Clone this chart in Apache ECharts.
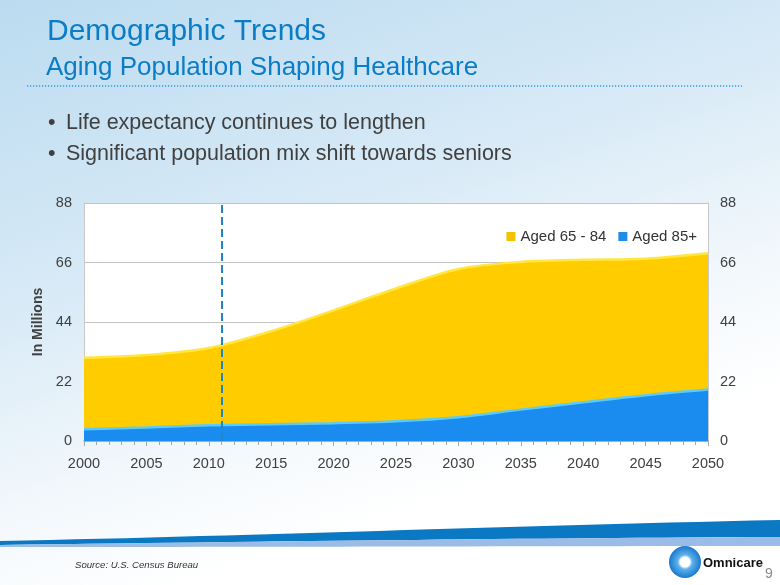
<!DOCTYPE html>
<html>
<head>
<meta charset="utf-8">
<script src="https://cdn.jsdelivr.net/npm/echarts@6/dist/echarts.min.js"></script>
<style>
html,body{margin:0;padding:0;width:780px;height:585px;overflow:hidden;}
#c{width:780px;height:585px;}
</style>
</head>
<body>
<div id="c"></div>
<script>
const years = [2000, 2005, 2010, 2015, 2020, 2025, 2030, 2035, 2040, 2045, 2050];
const aged65to84 = [30.8, 31.8, 34.4, 40.6, 48.3, 56.4, 63.6, 66.2, 67.0, 67.4, 69.4];
const aged85plus = [4.3, 5.0, 5.8, 6.2, 6.6, 7.3, 8.8, 11.6, 14.3, 16.9, 19.0];
const yTicks = [0, 22, 44, 66, 88];
const currentYear = 2011;

const FONT = '"Liberation Sans", Arial, sans-serif';
const chart = echarts.init(document.getElementById('c'), null, {renderer: 'canvas'});

const pairs = (vals) => years.map((y, i) => [y, vals[i]]);

// decorative swoosh outline (cubic bezier sampled into polygon points)
function bez(p0, p1, p2, p3, n) {
  const pts = [];
  for (let i = 0; i <= n; i++) {
    const t = i / n, u = 1 - t;
    pts.push([
      u*u*u*p0[0] + 3*u*u*t*p1[0] + 3*u*t*t*p2[0] + t*t*t*p3[0],
      u*u*u*p0[1] + 3*u*u*t*p1[1] + 3*u*t*t*p2[1] + t*t*t*p3[1]
    ]);
  }
  return pts;
}
const darkTop = bez([0,541],[250,536],[500,526],[780,520],30);
const darkBot = bez([780,537],[550,538],[300,541],[0,545],30);
const lightTop = bez([0,545],[300,541],[550,538],[780,537],30);
const lightBot = bez([780,546],[550,546],[300,547],[0,547],30);

function txt(text, x, y, size, color, extra) {
  return {
    type: 'text', x: x, y: y, z: 10,
    style: {
      text: text, fill: color,
      font: (extra && extra.font) || ('normal ' + size + 'px ' + FONT),
      textVerticalAlign: 'middle', textAlign: 'left'
    }
  };
}

chart.setOption({
  backgroundColor: {
    type: 'linear', x: 0, y: 0, x2: 0.25, y2: 1,
    colorStops: [
      {offset: 0, color: '#BBDBF0'},
      {offset: 0.45, color: '#D6E9F6'},
      {offset: 0.8, color: '#F3F8FC'},
      {offset: 1, color: '#FFFFFF'}
    ]
  },
  textStyle: {fontFamily: FONT},
  animation: false,
  graphic: [
    txt('Demographic Trends', 47, 32, 30, '#0B7DC6'),
    txt('Aging Population Shaping Healthcare', 46, 68, 26, '#0B7DC6'),
    txt('•', 48, 123, 21.5, '#404040'),
    txt('Life expectancy continues to lengthen', 66, 123, 21.5, '#404040'),
    txt('•', 48, 154, 21.5, '#404040'),
    txt('Significant population mix shift towards seniors', 66, 154, 21.5, '#404040'),
    txt('Source: U.S. Census Bureau', 75, 565, 9.6, '#333333', {font: 'italic 9.6px ' + FONT}),
    txt('Omnicare', 703, 563, 13, '#111111', {font: 'bold 13px ' + FONT}),
    txt('9', 765, 574, 14, '#8A8A8A'),
    {type: 'line', shape: {x1: 27, y1: 86, x2: 742, y2: 86},
     style: {stroke: '#2E9AD8', lineWidth: 1.5, lineDash: [1.2, 1.8]}, z: 1},
    {type: 'polygon', shape: {points: darkTop.concat(darkBot)},
     style: {fill: '#0B78C4'}, z: 1},
    {type: 'polygon', shape: {points: lightTop.concat(lightBot)},
     style: {fill: '#9BBCE6'}, z: 1},
    {type: 'circle', shape: {cx: 685, cy: 562, r: 16},
     style: {fill: {type: 'radial', x: 0.5, y: 0.5, r: 0.5,
       colorStops: [{offset: 0, color: '#FFFFFF'}, {offset: 0.3, color: '#FFFFFF'}, {offset: 0.45, color: '#5FB3EC'}, {offset: 1, color: '#1A78CC'}]}},
     z: 1}
  ],
  legend: {
    right: 78, top: 224,
    itemWidth: 9, itemHeight: 9, itemGap: 12,
    icon: 'rect',
    textStyle: {fontFamily: FONT, fontSize: 15, color: '#333333'},
    data: ['Aged 65 - 84', 'Aged 85+']
  },
  grid: {left: 84, right: 72, top: 203, bottom: 144, show: true, backgroundColor: '#FFFFFF', borderWidth: 0},
  xAxis: {
    type: 'value', min: 2000, max: 2050, interval: 5,
    axisLine: {show: true, lineStyle: {color: '#A6A6A6', width: 1.5}},
    axisTick: {show: true, length: 5, lineStyle: {color: '#A6A6A6'}},
    minorTick: {show: true, splitNumber: 5, length: 4, lineStyle: {color: '#A6A6A6'}},
    splitLine: {show: false},
    axisLabel: {fontFamily: FONT, fontSize: 14.5, color: '#404040', margin: 15, formatter: v => String(v)}
  },
  yAxis: [
    {type: 'value', min: 0, max: 88, interval: 22, position: 'left',
     name: 'In Millions', nameLocation: 'middle', nameGap: 35, nameRotate: 90,
     nameTextStyle: {fontFamily: FONT, fontSize: 14, fontWeight: 'bold', color: '#404040'},
     axisLine: {show: true, lineStyle: {color: '#C8C8C8'}},
     axisTick: {show: false},
     splitLine: {lineStyle: {color: '#C4C4C4'}},
     axisLabel: {fontFamily: FONT, fontSize: 14.5, color: '#404040', margin: 12,
       formatter: v => yTicks.includes(v) ? String(v) : ''}},
    {type: 'value', min: 0, max: 88, interval: 22, position: 'right',
     axisLine: {show: true, lineStyle: {color: '#C8C8C8'}},
     axisTick: {show: false},
     splitLine: {show: false},
     axisLabel: {fontFamily: FONT, fontSize: 14.5, color: '#404040', margin: 12,
       formatter: v => yTicks.includes(v) ? String(v) : ''}}
  ],
  series: [
    {name: 'Aged 65 - 84', type: 'line', data: pairs(aged65to84), smooth: 0.3,
     showSymbol: false, symbol: 'none',
     itemStyle: {color: '#F2C200'},
     lineStyle: {color: '#FFE640', width: 2.5},
     areaStyle: {color: '#FFCC00', opacity: 1},
     z: 2},
    {name: 'Aged 85+', type: 'line', data: pairs(aged85plus), smooth: 0.3,
     showSymbol: false, symbol: 'none',
     itemStyle: {color: '#1E8EEA'},
     lineStyle: {color: '#5CCBF7', width: 2.5},
     areaStyle: {color: '#1A8CEF', opacity: 1},
     z: 3},
    {name: 'current', type: 'line', data: [], z: 6,
     markLine: {
       silent: true, symbol: 'none', label: {show: false}, z: 6,
       lineStyle: {color: '#1F86C2', type: 'dashed', width: 2},
       data: [{xAxis: currentYear}]
     }}
  ]
});
</script>
</body>
</html>
